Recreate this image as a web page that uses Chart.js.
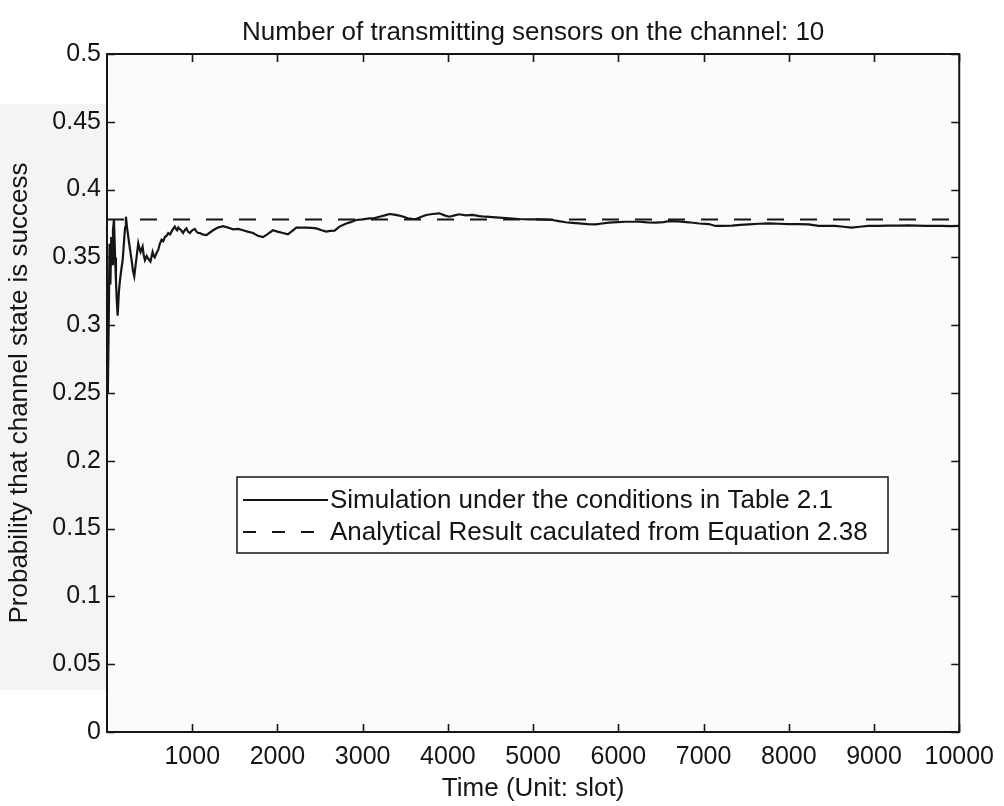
<!DOCTYPE html>
<html>
<head>
<meta charset="utf-8">
<script src="https://cdn.jsdelivr.net/npm/chart.js@4/dist/chart.umd.min.js"></script>
<style>
  html, body { margin: 0; padding: 0; background: #ffffff; }
  canvas { display: block; }
</style>
</head>
<body>
<canvas id="chart" width="1004" height="806"></canvas>
<script>
// Running success probability of the channel, sampled along the time axis (slots)
const timeSlots = [
  10, 20, 30, 40, 50, 60, 70, 82, 95, 105, 115, 125, 140, 152, 170, 184, 200, 212, 222, 235,
  250, 270, 289, 305, 320, 335, 348, 367, 380, 394, 418, 430, 445, 465, 484, 510, 535, 548, 560, 580,
  601, 620, 640, 660, 679, 700, 718, 740, 757, 775, 796, 810, 823, 837, 851, 870, 893, 912, 933, 950,
  972, 1000, 1030, 1050, 1069, 1089, 1120, 1167, 1200, 1245, 1300, 1362, 1420, 1479, 1540, 1596, 1650, 1713, 1770, 1830,
  1880, 1947, 2000, 2065, 2123, 2182, 2221, 2260, 2338, 2400, 2455, 2520, 2572, 2620, 2670, 2728, 2807, 2860, 2924, 3000,
  3080, 3140, 3197, 3260, 3314, 3370, 3431, 3480, 3529, 3580, 3626, 3690, 3744, 3820, 3899, 3960, 4016, 4080, 4133, 4210,
  4289, 4370, 4446, 4520, 4602, 4720, 4836, 4950, 5070, 5150, 5226, 5300, 5382, 5460, 5539, 5640, 5734, 5810, 5890, 5990,
  6085, 6160, 6241, 6340, 6436, 6530, 6593, 6700, 6827, 6950, 7061, 7139, 7230, 7334, 7430, 7529, 7650, 7763, 7880, 7998,
  8120, 8232, 8349, 8450, 8544, 8640, 8739, 8830, 8934, 9050, 9169, 9290, 9403, 9500, 9598, 9700, 9793, 9900, 10000
];
const successProb = [
  0.250, 0.300, 0.360, 0.330, 0.365, 0.345, 0.370, 0.378, 0.350, 0.333, 0.318, 0.307, 0.325, 0.333, 0.342, 0.348, 0.362, 0.372, 0.380, 0.372,
  0.365, 0.356, 0.348, 0.340, 0.336, 0.344, 0.3505, 0.3604, 0.357, 0.354, 0.358, 0.352, 0.348, 0.351, 0.349, 0.347, 0.354, 0.351, 0.350, 0.353,
  0.3555, 0.360, 0.363, 0.362, 0.365, 0.366, 0.368, 0.367, 0.369, 0.371, 0.3727, 0.371, 0.370, 0.372, 0.371, 0.370, 0.368, 0.370, 0.3714, 0.369,
  0.368, 0.370, 0.371, 0.369, 0.368, 0.368, 0.367, 0.3665, 0.368, 0.370, 0.372, 0.373, 0.372, 0.3707, 0.371, 0.370, 0.369, 0.368, 0.366, 0.365,
  0.367, 0.370, 0.369, 0.368, 0.367, 0.370, 0.372, 0.372, 0.372, 0.3718, 0.3714, 0.370, 0.369, 0.3695, 0.3697, 0.3727, 0.375, 0.376, 0.3776, 0.378,
  0.3788, 0.379, 0.380, 0.381, 0.382, 0.3815, 0.3808, 0.380, 0.3788, 0.3785, 0.3783, 0.380, 0.3813, 0.382, 0.3825, 0.381, 0.380, 0.381, 0.3818, 0.381,
  0.3813, 0.3805, 0.380, 0.3797, 0.3793, 0.3788, 0.3783, 0.378, 0.378, 0.3778, 0.3776, 0.3768, 0.3759, 0.3755, 0.3751, 0.3746, 0.3744, 0.375, 0.3756, 0.376,
  0.3763, 0.3763, 0.3763, 0.3758, 0.3756, 0.376, 0.3768, 0.3765, 0.3759, 0.375, 0.3746, 0.3732, 0.3733, 0.3734, 0.374, 0.3744, 0.3748, 0.3751, 0.3748, 0.3746,
  0.3745, 0.3744, 0.3732, 0.3733, 0.3732, 0.3726, 0.3719, 0.3726, 0.3732, 0.3733, 0.3734, 0.3735, 0.3736, 0.3734, 0.3732, 0.3732, 0.3732, 0.3731, 0.3732
];
// Closed-form value of the same probability
const analyticalProb = 0.378;
const analyticalSpan = [0, 10000];

const xTickValues = [1000, 2000, 3000, 4000, 5000, 6000, 7000, 8000, 9000, 10000];
const xTickLabels = ['1000', '2000', '3000', '4000', '5000', '6000', '7000', '8000', '9000', '10000'];
const yTickValues = [0, 0.05, 0.1, 0.15, 0.2, 0.25, 0.3, 0.35, 0.4, 0.45, 0.5];
const yTickLabels = ['0', '0.05', '0.1', '0.15', '0.2', '0.25', '0.3', '0.35', '0.4', '0.45', '0.5'];

const seriesLabels = [
  'Simulation under the conditions in Table 2.1',
  'Analytical Result caculated from Equation 2.38'
];
const chartTitle = 'Number of transmitting sensors on the channel: 10';
const xAxisTitle = 'Time (Unit: slot)';
const yAxisTitle = 'Probability that channel state is success';

const FONT = '"Liberation Sans", Arial, Helvetica, sans-serif';
const INK = '#151515';

function labelFor(values, labels, value) {
  const i = values.findIndex(v => Math.abs(v - value) < 1e-9);
  return i >= 0 ? labels[i] : '';
}

// Faint grey tone of the printed page behind the left margin
const pagePlugin = {
  id: 'page',
  beforeDraw(chart) {
    const { ctx, chartArea: a } = chart;
    ctx.save();
    ctx.fillStyle = '#ffffff';
    ctx.fillRect(0, 0, chart.width, chart.height);
    ctx.fillStyle = '#f4f4f4';
    ctx.fillRect(0, 104, a.left, 586);
    ctx.fillStyle = '#fbfbfb';
    ctx.fillRect(a.left, a.top, a.right - a.left, a.bottom - a.top);
    ctx.restore();
  }
};

// Boxed axes with inward ticks on all four sides
const framePlugin = {
  id: 'frame',
  afterDatasetsDraw(chart) {
    const { ctx, chartArea: a, scales: { x, y } } = chart;
    ctx.save();
    ctx.strokeStyle = INK;
    ctx.lineWidth = 2;
    ctx.strokeRect(a.left, a.top, a.right - a.left, a.bottom - a.top);
    ctx.lineWidth = 1.6;
    ctx.beginPath();
    const len = 8;
    x.ticks.forEach(t => {
      const px = Math.round(x.getPixelForValue(t.value)) + 0.5;
      ctx.moveTo(px, a.bottom); ctx.lineTo(px, a.bottom - len);
      ctx.moveTo(px, a.top); ctx.lineTo(px, a.top + len);
    });
    y.ticks.forEach(t => {
      const py = Math.round(y.getPixelForValue(t.value)) + 0.5;
      ctx.moveTo(a.left, py); ctx.lineTo(a.left + len, py);
      ctx.moveTo(a.right, py); ctx.lineTo(a.right - len, py);
    });
    ctx.stroke();
    ctx.restore();
  }
};

// Title centred over the plotting area
const titlePlugin = {
  id: 'plotTitle',
  afterDraw(chart) {
    const { ctx, chartArea: a } = chart;
    ctx.save();
    ctx.fillStyle = INK;
    ctx.font = '26px ' + FONT;
    ctx.textAlign = 'center';
    ctx.textBaseline = 'alphabetic';
    ctx.fillText(chartTitle, (a.left + a.right) / 2, 40);
    ctx.restore();
  }
};

// Boxed legend inside the plot area
const boxLegendPlugin = {
  id: 'boxLegend',
  afterDraw(chart) {
    const { ctx } = chart;
    const box = { left: 237, top: 477, right: 888, bottom: 553 };
    ctx.save();
    ctx.fillStyle = '#ffffff';
    ctx.fillRect(box.left, box.top, box.right - box.left, box.bottom - box.top);
    ctx.strokeStyle = INK;
    ctx.lineWidth = 1.5;
    ctx.strokeRect(box.left, box.top, box.right - box.left, box.bottom - box.top);
    ctx.font = '26px ' + FONT;
    ctx.fillStyle = INK;
    ctx.textBaseline = 'middle';
    const rows = [500, 532];
    chart.data.datasets.forEach((ds, i) => {
      const yRow = rows[i];
      ctx.beginPath();
      ctx.lineWidth = 2;
      ctx.strokeStyle = ds.borderColor;
      ctx.setLineDash(ds.borderDash && ds.borderDash.length ? [13, 16] : []);
      ctx.moveTo(243, yRow);
      ctx.lineTo(328, yRow);
      ctx.stroke();
      ctx.setLineDash([]);
      ctx.fillText(ds.label, 330, yRow + 1);
    });
    ctx.restore();
  }
};

new Chart(document.getElementById('chart'), {
  type: 'line',
  data: {
    datasets: [
      {
        label: seriesLabels[0],
        data: timeSlots.map((t, i) => ({ x: t, y: successProb[i] })),
        borderColor: INK,
        borderWidth: 2.2,
        pointRadius: 0,
        tension: 0,
        fill: false
      },
      {
        label: seriesLabels[1],
        data: analyticalSpan.map(t => ({ x: t, y: analyticalProb })),
        borderColor: INK,
        borderWidth: 2,
        borderDash: [17, 16],
        pointRadius: 0,
        tension: 0,
        fill: false
      }
    ]
  },
  options: {
    responsive: false,
    animation: false,
    devicePixelRatio: 1,
    layout: { padding: { left: 0, right: 43, top: 54, bottom: 0 } },
    plugins: {
      legend: { display: false },
      title: { display: false },
      tooltip: { enabled: false }
    },
    scales: {
      x: {
        type: 'linear',
        min: 0,
        max: 10000,
        grid: { display: false, drawTicks: false },
        border: { display: false },
        afterBuildTicks(scale) { scale.ticks = xTickValues.map(v => ({ value: v })); },
        afterFit(scale) { scale.height = 74; },
        ticks: {
          color: INK,
          font: { family: FONT, size: 25 },
          padding: 10,
          maxRotation: 0,
          autoSkip: false,
          callback(value) { return labelFor(xTickValues, xTickLabels, value); }
        },
        title: {
          display: true,
          text: xAxisTitle,
          color: INK,
          font: { family: FONT, size: 26 },
          padding: { top: 0, bottom: 2 }
        }
      },
      y: {
        type: 'linear',
        min: 0,
        max: 0.5,
        grid: { display: false, drawTicks: false },
        border: { display: false },
        afterBuildTicks(scale) { scale.ticks = yTickValues.map(v => ({ value: v })); },
        afterFit(scale) { scale.width = 107; },
        ticks: {
          color: INK,
          font: { family: FONT, size: 25 },
          padding: 6,
          autoSkip: false,
          callback(value) { return labelFor(yTickValues, yTickLabels, value); }
        },
        title: {
          display: true,
          text: yAxisTitle,
          color: INK,
          font: { family: FONT, size: 26 },
          padding: { top: 4, bottom: 0 }
        }
      }
    }
  },
  plugins: [pagePlugin, framePlugin, titlePlugin, boxLegendPlugin]
});
</script>
</body>
</html>
